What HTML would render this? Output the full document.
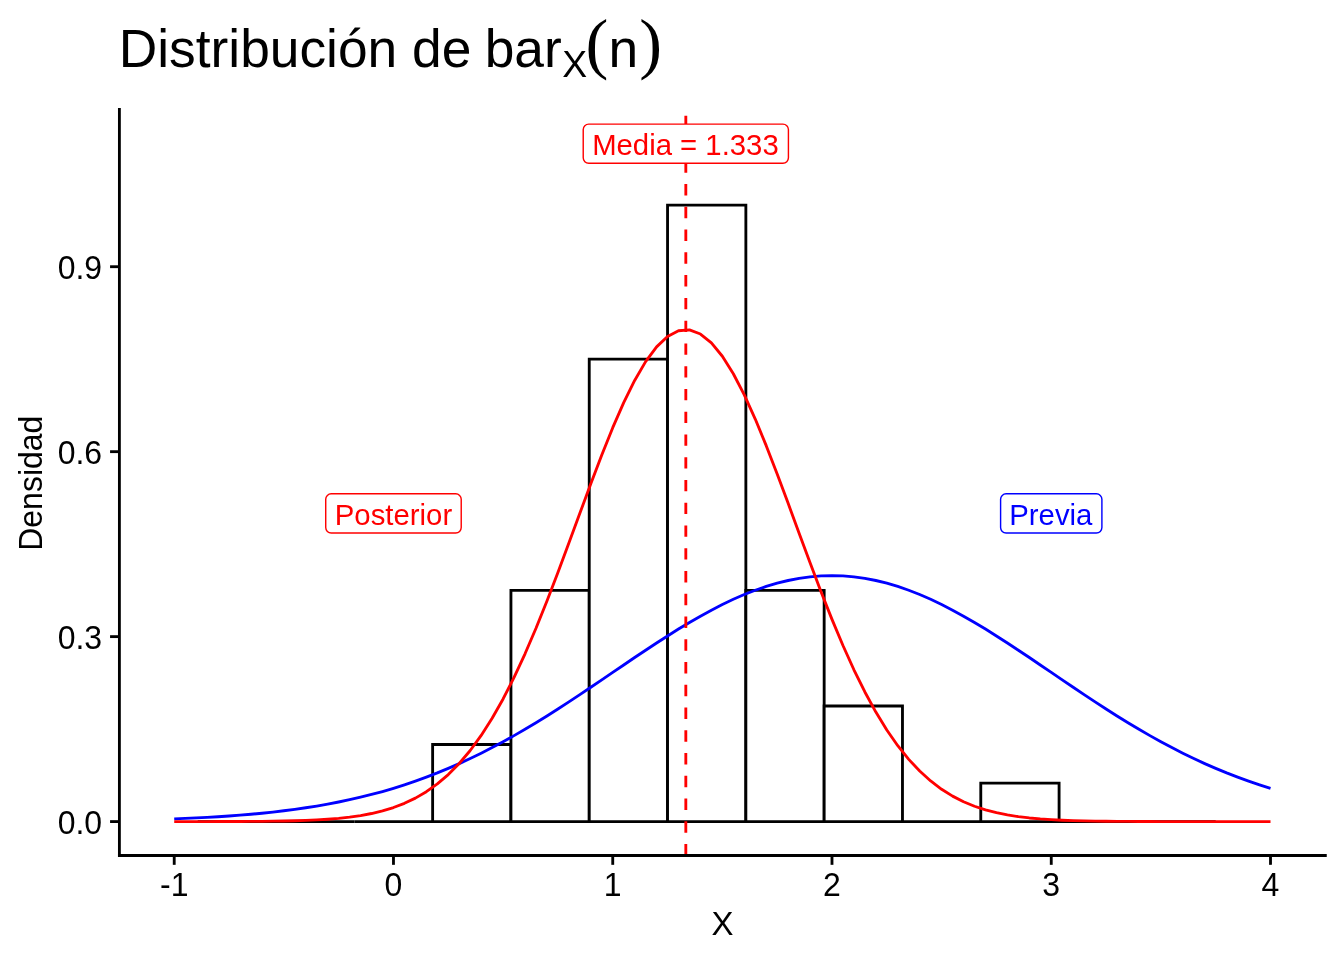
<!DOCTYPE html>
<html lang="es"><head><meta charset="utf-8"><title>Distribución de bar X(n)</title>
<style>
html,body{margin:0;padding:0;background:#fff}
svg{display:block}
text{font-family:"Liberation Sans",sans-serif;fill:#000}
.tk{font-size:32px}
.lb{font-size:29.33px}
</style></head><body>
<svg width="1344" height="960" viewBox="0 0 1344 960">
<rect width="1344" height="960" fill="#fff"/>

<g fill="#fff" stroke="#000" stroke-width="2.845" stroke-linejoin="miter">
<path d="M197.71 821.59L197.71 821.59L276.01 821.59L276.01 821.59Z"/>
<path d="M276.01 821.59L276.01 821.59L354.32 821.59L354.32 821.59Z"/>
<path d="M354.32 821.59L354.32 821.59L432.63 821.59L432.63 821.59Z"/>
<path d="M432.63 821.59L432.63 744.52L510.94 744.52L510.94 821.59Z"/>
<path d="M510.94 821.59L510.94 590.39L589.24 590.39L589.24 821.59Z"/>
<path d="M589.24 821.59L589.24 359.19L667.55 359.19L667.55 821.59Z"/>
<path d="M667.55 821.59L667.55 205.06L745.86 205.06L745.86 821.59Z"/>
<path d="M745.86 821.59L745.86 590.39L824.16 590.39L824.16 821.59Z"/>
<path d="M824.16 821.59L824.16 705.99L902.47 705.99L902.47 821.59Z"/>
<path d="M902.47 821.59L902.47 821.59L980.78 821.59L980.78 821.59Z"/>
<path d="M980.78 821.59L980.78 783.06L1059.09 783.06L1059.09 821.59Z"/>
<path d="M1059.09 821.59L1059.09 821.59L1137.39 821.59L1137.39 821.59Z"/>
<path d="M1137.39 821.59L1137.39 821.59L1215.70 821.59L1215.70 821.59Z"/>
</g>
<polyline fill="none" stroke="#0000ff" stroke-width="2.845" stroke-linejoin="round" points="174.22,818.86 185.18,818.42 196.14,817.92 207.10,817.35 218.07,816.71 229.03,815.98 239.99,815.17 250.96,814.25 261.92,813.22 272.88,812.07 283.84,810.78 294.81,809.36 305.77,807.78 316.73,806.04 327.70,804.13 338.66,802.02 349.62,799.72 360.59,797.21 371.55,794.47 382.51,791.51 393.47,788.30 404.44,784.85 415.40,781.14 426.36,777.16 437.33,772.92 448.29,768.40 459.25,763.61 470.22,758.54 481.18,753.21 492.14,747.60 503.10,741.74 514.07,735.63 525.03,729.28 535.99,722.71 546.96,715.94 557.92,708.98 568.88,701.87 579.85,694.63 590.81,687.28 601.77,679.86 612.74,672.41 623.70,664.96 634.66,657.54 645.62,650.21 656.59,642.99 667.55,635.93 678.51,629.08 689.48,622.47 700.44,616.15 711.40,610.16 722.36,604.53 733.33,599.32 744.29,594.54 755.25,590.24 766.22,586.45 777.18,583.20 788.14,580.50 799.11,578.38 810.07,576.86 821.03,575.94 831.99,575.63 842.96,575.94 853.92,576.86 864.88,578.38 875.85,580.50 886.81,583.20 897.77,586.45 908.74,590.24 919.70,594.54 930.66,599.32 941.62,604.53 952.59,610.16 963.55,616.15 974.51,622.47 985.48,629.08 996.44,635.93 1007.40,642.99 1018.37,650.21 1029.33,657.54 1040.29,664.96 1051.25,672.41 1062.22,679.86 1073.18,687.28 1084.14,694.63 1095.11,701.87 1106.07,708.98 1117.03,715.94 1128.00,722.71 1138.96,729.28 1149.92,735.63 1160.88,741.74 1171.85,747.60 1182.81,753.21 1193.77,758.54 1204.74,763.61 1215.70,768.40 1226.66,772.92 1237.63,777.16 1248.59,781.14 1259.55,784.85 1270.51,788.30"/>
<polyline fill="none" stroke="#ff0000" stroke-width="2.845" stroke-linejoin="round" points="174.22,821.58 185.18,821.58 196.14,821.57 207.10,821.56 218.07,821.54 229.03,821.51 239.99,821.46 250.96,821.40 261.92,821.31 272.88,821.18 283.84,821.00 294.81,820.74 305.77,820.38 316.73,819.89 327.70,819.22 338.66,818.32 349.62,817.13 360.59,815.55 371.55,813.51 382.51,810.88 393.47,807.54 404.44,803.34 415.40,798.11 426.36,791.69 437.33,783.90 448.29,774.55 459.25,763.46 470.22,750.47 481.18,735.44 492.14,718.28 503.10,698.93 514.07,677.41 525.03,653.79 535.99,628.26 546.96,601.05 557.92,572.51 568.88,543.09 579.85,513.29 590.81,483.69 601.77,454.93 612.74,427.69 623.70,402.64 634.66,380.42 645.62,361.65 656.59,346.86 667.55,336.46 678.51,330.76 689.48,329.95 700.44,334.03 711.40,342.88 722.36,356.26 733.33,373.76 744.29,394.89 755.25,419.07 766.22,445.65 777.18,473.98 788.14,503.37 799.11,533.17 810.07,562.78 821.03,591.66 831.99,619.36 842.96,645.48 853.92,669.76 864.88,691.99 875.85,712.07 886.81,729.96 897.77,745.69 908.74,759.35 919.70,771.05 930.66,780.96 941.62,789.26 952.59,796.11 963.55,801.72 974.51,806.24 985.48,809.85 996.44,812.71 1007.40,814.93 1018.37,816.65 1029.33,817.96 1040.29,818.95 1051.25,819.69 1062.22,820.24 1073.18,820.63 1084.14,820.92 1095.11,821.13 1106.07,821.27 1117.03,821.38 1128.00,821.45 1138.96,821.49 1149.92,821.53 1160.88,821.55 1171.85,821.56 1182.81,821.57 1193.77,821.58 1204.74,821.58 1215.70,821.59 1226.66,821.59 1237.63,821.59 1248.59,821.59 1259.55,821.59 1270.51,821.59"/>
<line x1="685.82" y1="855.50" x2="685.82" y2="109.50" stroke="#ff0000" stroke-width="2.845" stroke-dasharray="11.38 11.38"/>
<rect x="583.22" y="124.11" width="205.20" height="39.20" rx="5.5" ry="5.5" fill="#fff" stroke="#ff0000" stroke-width="1.42"/><text class="lb" transform="translate(685.42 154.90) scale(1 1.035)" text-anchor="middle" style="fill:#ff0000">Media = 1.333</text>
<rect x="325.72" y="493.83" width="135.50" height="39.20" rx="5.5" ry="5.5" fill="#fff" stroke="#ff0000" stroke-width="1.42"/><text class="lb" transform="translate(393.47 524.60) scale(1 1)" text-anchor="middle" style="fill:#ff0000">Posterior</text>
<rect x="1000.60" y="493.83" width="101.30" height="39.20" rx="5.5" ry="5.5" fill="#fff" stroke="#0000ff" stroke-width="1.42"/><text class="lb" transform="translate(1050.85 524.60) scale(1 1)" text-anchor="middle" style="fill:#0000ff">Previa</text>
<g stroke="#000" stroke-width="2.845" fill="none">
<line x1="119.40" y1="109.50" x2="119.40" y2="855.50" stroke-linecap="square"/>
<line x1="119.40" y1="855.50" x2="1325.33" y2="855.50" stroke-linecap="square"/>
<line x1="110.07" y1="821.59" x2="119.40" y2="821.59"/>
<line x1="110.07" y1="636.63" x2="119.40" y2="636.63"/>
<line x1="110.07" y1="451.67" x2="119.40" y2="451.67"/>
<line x1="110.07" y1="266.71" x2="119.40" y2="266.71"/>
<line x1="174.22" y1="855.50" x2="174.22" y2="864.83"/>
<line x1="393.47" y1="855.50" x2="393.47" y2="864.83"/>
<line x1="612.74" y1="855.50" x2="612.74" y2="864.83"/>
<line x1="831.99" y1="855.50" x2="831.99" y2="864.83"/>
<line x1="1051.25" y1="855.50" x2="1051.25" y2="864.83"/>
<line x1="1270.51" y1="855.50" x2="1270.51" y2="864.83"/>
</g>
<text class="tk" transform="translate(102.1 833.64) scale(1 1.04)" text-anchor="end">0.0</text>
<text class="tk" transform="translate(102.1 648.68) scale(1 1.04)" text-anchor="end">0.3</text>
<text class="tk" transform="translate(102.1 463.72) scale(1 1.04)" text-anchor="end">0.6</text>
<text class="tk" transform="translate(102.1 278.76) scale(1 1.04)" text-anchor="end">0.9</text>
<text class="tk" transform="translate(174.22 895.8) scale(1 1.04)" text-anchor="middle">-1</text>
<text class="tk" transform="translate(393.47 895.8) scale(1 1.04)" text-anchor="middle">0</text>
<text class="tk" transform="translate(612.74 895.8) scale(1 1.04)" text-anchor="middle">1</text>
<text class="tk" transform="translate(831.99 895.8) scale(1 1.04)" text-anchor="middle">2</text>
<text class="tk" transform="translate(1051.25 895.8) scale(1 1.04)" text-anchor="middle">3</text>
<text class="tk" transform="translate(1270.51 895.8) scale(1 1.04)" text-anchor="middle">4</text>
<text class="tk" transform="translate(722.37 934.9) scale(1.03 1.04)" text-anchor="middle">X</text>
<text class="tk" transform="translate(42 483.20) rotate(-90) scale(1 1.03)" text-anchor="middle">Densidad</text>
<text x="118.7" y="66.8" style="font-size:53.33px">Distribución de <tspan dx="-1.6">bar</tspan><tspan dy="9.7" dx="0.4" style="font-size:37.33px">X</tspan></text>
<text x="585.6" y="65.7" style="font-size:68.5px;font-family:'Liberation Serif',serif">(</text>
<text x="608.6" y="66.8" style="font-size:53.33px">n</text>
<text x="639.2" y="65.7" style="font-size:68.5px;font-family:'Liberation Serif',serif">)</text>
</svg></body></html>
